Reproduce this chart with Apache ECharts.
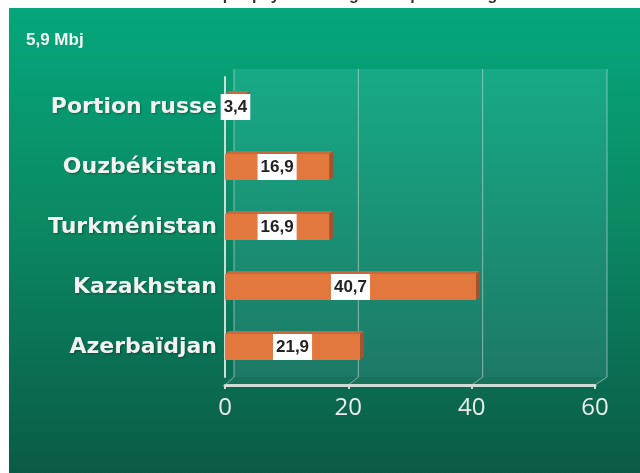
<!DOCTYPE html>
<html>
<head>
<meta charset="utf-8">
<script src="https://cdn.jsdelivr.net/npm/echarts@6/dist/echarts.min.js"></script>
<style>html,body{margin:0;padding:0;background:#fff;}#c{width:640px;height:473px;}</style>
</head>
<body>
<div id="c"></div>
<script>
var categories = ['Azerbaïdjan', 'Kazakhstan', 'Turkménistan', 'Ouzbékistan', 'Portion russe'];
var values = [21.9, 40.7, 16.9, 16.9, 3.4];
var xTicks = [0, 20, 40, 60];
var titleText = 'Production par pays de la région en pourcentage';
var subText = '5,9 Mbj';

var chart = echarts.init(document.getElementById('c'), null, {renderer: 'canvas'});
var DX = 9, DY = -8, BARH = 26, BD = 4;

function fmt(v) { return String(v).replace('.', ','); }

var option = {
  animation: false,
  title: [
    {text: titleText, left: 'center', top: -17, textStyle: {color: '#333', fontSize: 16, fontWeight: 'bold', fontFamily: 'Liberation Sans'}},
    {text: subText, left: 21, top: 27, textStyle: {color: '#f4f4f4', fontSize: 17, fontWeight: 'bold', fontFamily: 'Liberation Sans'}}
  ],
  grid: {left: 225, right: 45, top: 77, bottom: 96, containLabel: false},
  xAxis: {
    type: 'value', min: 0, max: 60, interval: 20, offset: 8,
    axisLine: {show: true, lineStyle: {color: '#cfdcd8', width: 3, cap: 'round'}},
    axisTick: {show: true, length: 4, lineStyle: {color: '#cfdcd8', width: 2}},
    splitLine: {show: false},
    axisLabel: {color: '#ececec', fontSize: 24, fontFamily: 'Open Sans', margin: 11,
      formatter: function (v) { return xTicks.indexOf(v) >= 0 ? String(v) : ''; }}
  },
  yAxis: {
    type: 'category', data: categories,
    axisLine: {show: true, lineStyle: {color: '#cfdcd8', width: 2}},
    axisTick: {show: false},
    axisLabel: {color: '#f2f2f2', fontSize: 22, fontWeight: 'bold', fontFamily: 'DejaVu Sans', margin: 8,
      textShadowColor: 'rgba(0,0,0,0.35)', textShadowBlur: 2, textShadowOffsetX: 1, textShadowOffsetY: 1}
  },
  series: [
    {
      type: 'custom', z: 2,
      renderItem: function (params, api) {
        var v = api.value(0), c = api.value(1);
        var s = api.coord([0, c]), e = api.coord([v, c]);
        var top = s[1] - BARH / 2, bot = s[1] + BARH / 2;
        return {type: 'group', children: [
          {type: 'polygon', shape: {points: [[s[0], top], [e[0], top], [e[0] + BD, top - BD + 1], [s[0] + BD, top - BD + 1]]},
            style: {fill: '#c9683a'}},
          {type: 'polygon', shape: {points: [[e[0], top], [e[0] + BD, top - BD + 1], [e[0] + BD, bot - BD + 1], [e[0], bot]]},
            style: {fill: '#a4532f'}}
        ]};
      },
      encode: {x: 0, y: 1},
      data: values.map(function (v, i) { return [v, i]; })
    },
    {
      type: 'bar', z: 3, barWidth: BARH,
      data: values,
      itemStyle: {color: '#e3783f'},
      label: {show: true, position: 'inside', color: '#222', fontSize: 17, fontWeight: 'bold',
        fontFamily: 'Liberation Sans', backgroundColor: '#ffffff', padding: [5, 3, 4, 3],
        formatter: function (p) { return fmt(p.value); }}
    }
  ]
};
chart.setOption(option);

function px(v) { return chart.convertToPixel({xAxisIndex: 0}, v); }
var x0 = px(0), x60 = px(60);
var gTop = 77, gBot = 377, front = 385;
var line = '#b8d2ca';
var els = [
  {type: 'rect', z: -10, silent: true, shape: {x: 9, y: 8, width: 631, height: 465},
    style: {fill: new echarts.graphic.LinearGradient(0, 0, 0, 1, [{offset: 0, color: '#05a77b'}, {offset: 0.45, color: '#0b8a64'}, {offset: 1, color: '#0a5b46'}])}},
  {type: 'polygon', z: -9, silent: true,
    shape: {points: [[x0 + DX, gTop + DY], [x60 + DX + 3, gTop + DY], [x60 + DX + 3, gBot], [x0 + DX, gBot]]},
    style: {fill: new echarts.graphic.LinearGradient(0, 0, 0, 1, [{offset: 0, color: '#17aa86'}, {offset: 1, color: '#1d7966'}])}},
  {type: 'polygon', z: -9, silent: true,
    shape: {points: [[x0, front], [x60, front], [x60 + DX + 3, gBot], [x0 + DX, gBot]]},
    style: {fill: 'rgba(40,120,100,0.5)'}}
];
xTicks.forEach(function (t, i) {
  var f = px(t);
  var b = f + DX + i;
  els.push({type: 'line', z: -8, silent: true, shape: {x1: b, y1: gTop + DY, x2: b, y2: gBot}, style: {stroke: line, lineWidth: 1, opacity: 0.7}});
  els.push({type: 'line', z: -8, silent: true, shape: {x1: f, y1: front, x2: b, y2: gBot}, style: {stroke: line, lineWidth: 1, opacity: 0.7}});
});
chart.setOption({graphic: {elements: els}});
</script>
</body>
</html>
